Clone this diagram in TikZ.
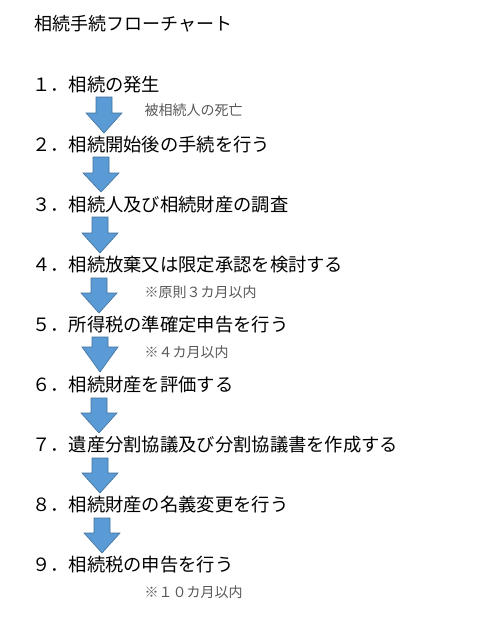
\documentclass[tikz,border=0pt]{standalone}
\usepackage{fontspec}
\newfontfamily\jp{Noto Sans CJK JP}
\definecolor{arrfill}{HTML}{5B9BD5}
\definecolor{arrline}{HTML}{41719C}
\definecolor{notegray}{HTML}{595959}
\tikzset{
  stepnode/.style={anchor=west, inner sep=0pt, text height=0.88em, text depth=0.12em,
    font=\jp\fontsize{18.3}{20}\selectfont},
  titlenode/.style={anchor=west, inner sep=0pt, text height=0.88em, text depth=0.12em,
    font=\jp\fontsize{18}{20}\selectfont},
  notenode/.style={anchor=west, inner sep=0pt, text height=0.88em, text depth=0.12em,
    text=notegray, font=\jp\fontsize{14}{16}\selectfont},
  blockarr/.style={fill=arrfill, draw=arrline, line width=0.6pt, line join=miter}
}
\newcommand\flowarrow[4]{% center x, top, head start, tip
  \path[blockarr] (#1-8,-#2) -- (#1+8,-#2) -- (#1+8,-#3) -- (#1+18,-#3) -- (#1,-#4)
    -- (#1-18,-#3) -- (#1-8,-#3) -- cycle;}
\begin{document}
\begin{tikzpicture}[x=1pt,y=1pt]
\useasboundingbox (0,0) rectangle (486,-625);
\fill[white] (0,0) rectangle (486,-625);

\node[titlenode] (title) at (34,-27) {相続手続フローチャート};

\node[stepnode] (s1) at (32,-88)  {１．相続の発生};
\node[stepnode] (s2) at (32,-148) {２．相続開始後の手続を行う};
\node[stepnode] (s3) at (32,-208) {３．相続人及び相続財産の調査};
\node[stepnode] (s4) at (32,-268) {４．相続放棄又は限定承認を検討する};
\node[stepnode] (s5) at (32,-328) {５．所得税の準確定申告を行う};
\node[stepnode] (s6) at (32,-388) {６．相続財産を評価する};
\node[stepnode] (s7) at (32,-448) {７．遺産分割協議及び分割協議書を作成する};
\node[stepnode] (s8) at (32,-508) {８．相続財産の名義変更を行う};
\node[stepnode] (s9) at (32,-568) {９．相続税の申告を行う};

\node[notenode] (n1) at (144.5,-112) {被相続人の死亡};
\node[notenode] (n4) at (144.5,-294) {※原則３カ月以内};
\node[notenode] (n5) at (144.5,-354) {※４カ月以内};
\node[notenode] (n9) at (144.5,-594) {※１０カ月以内};

\flowarrow{104}{97}{113}{133}
\flowarrow{101}{157}{173}{192}
\flowarrow{100}{217}{233}{253}
\flowarrow{99}{278}{293}{313}
\flowarrow{100}{337}{347}{372}
\flowarrow{99}{398}{413}{433}
\flowarrow{100}{458}{473}{493}
\flowarrow{102}{518}{533}{553}
\end{tikzpicture}
\end{document}
